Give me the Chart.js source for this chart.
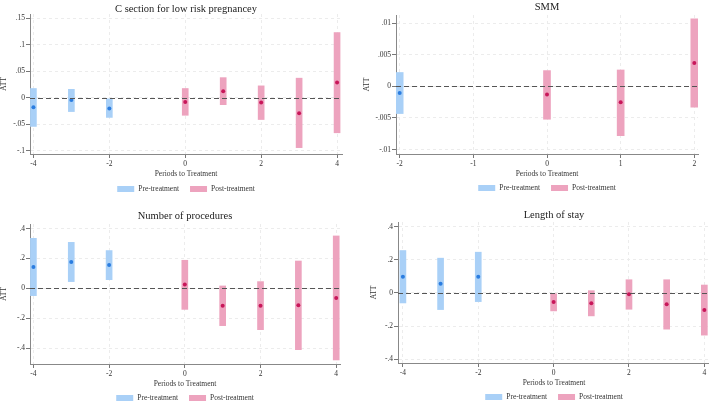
<!DOCTYPE html>
<html><head><meta charset="utf-8">
<script src="https://cdn.jsdelivr.net/npm/chart.js@4.4.0/dist/chart.umd.min.js"></script>
<style>
html,body{margin:0;padding:0;background:#fff;overflow:hidden;width:709px;height:402px;}
.p{position:absolute;overflow:hidden;}
</style></head><body>
<div class="p" style="left:0;top:0;width:355px;height:200px"><canvas id="c1" width="355" height="200"></canvas></div>
<div class="p" style="left:355px;top:0;width:354px;height:200px"><canvas id="c2" width="354" height="200"></canvas></div>
<div class="p" style="left:0;top:200px;width:355px;height:202px"><canvas id="c3" width="355" height="202"></canvas></div>
<div class="p" style="left:355px;top:200px;width:362px;height:202px"><canvas id="c4" width="362" height="202"></canvas></div>
<script>
// ---------- shared labels ----------
const legendLabels = ['Pre-treatment', 'Post-treatment'];
const xAxisTitle = 'Periods to Treatment';
const yAxisTitle = 'ATT';

// ---------- Panel 1: C section ----------
const csTitle = 'C section for low risk pregnancey';
const csPrePeriods = [-4, -3, -2];
const csPreEst = [-0.018, -0.004, -0.020];
const csPreLo = [-0.054, -0.026, -0.037];
const csPreHi = [0.0175, 0.016, -0.002];
const csPostPeriods = [0, 1, 2, 3, 4];
const csPostEst = [-0.008, 0.0125, -0.009, -0.029, 0.029];
const csPostLo = [-0.033, -0.013, -0.041, -0.094, -0.066];
const csPostHi = [0.0175, 0.038, 0.0225, 0.037, 0.123];
const csYTicks = [-0.1, -0.05, 0, 0.05, 0.1, 0.15];
const csYLabels = ['-.1', '-.05', '0', '.05', '.1', '.15'];
const csXTicks = [-4, -2, 0, 2, 4];
const csXLabels = ['-4', '-2', '0', '2', '4'];

// ---------- Panel 2: SMM ----------
const smmTitle = 'SMM';
const smmPrePeriods = [-2];
const smmPreEst = [-0.00105];
const smmPreLo = [-0.0043];
const smmPreHi = [0.0022];
const smmPostPeriods = [0, 1, 2];
const smmPostEst = [-0.0013, -0.0025, 0.0037];
const smmPostLo = [-0.0052, -0.0078, -0.0033];
const smmPostHi = [0.0025, 0.0026, 0.0107];
const smmYTicks = [-0.01, -0.005, 0, 0.005, 0.01];
const smmYLabels = ['-.01', '-.005', '0', '.005', '.01'];
const smmXTicks = [-2, -1, 0, 1, 2];
const smmXLabels = ['-2', '-1', '0', '1', '2'];

// ---------- Panel 3: Number of procedures ----------
const procTitle = 'Number of procedures';
const procPrePeriods = [-4, -3, -2];
const procPreEst = [0.143, 0.177, 0.156];
const procPreLo = [-0.049, 0.045, 0.058];
const procPreHi = [0.335, 0.308, 0.253];
const procPostPeriods = [0, 1, 2, 3, 4];
const procPostEst = [0.025, -0.116, -0.116, -0.114, -0.065];
const procPostLo = [-0.141, -0.25, -0.277, -0.411, -0.48];
const procPostHi = [0.188, 0.016, 0.045, 0.183, 0.351];
const procYTicks = [-0.4, -0.2, 0, 0.2, 0.4];
const procYLabels = ['-.4', '-.2', '0', '.2', '.4'];
const procXTicks = [-4, -2, 0, 2, 4];
const procXLabels = ['-4', '-2', '0', '2', '4'];

// ---------- Panel 4: Length of stay ----------
const losTitle = 'Length of stay';
const losPrePeriods = [-4, -3, -2];
const losPreEst = [0.098, 0.056, 0.098];
const losPreLo = [-0.06, -0.1, -0.052];
const losPreHi = [0.256, 0.21, 0.246];
const losPostPeriods = [0, 1, 2, 3, 4];
const losPostEst = [-0.054, -0.062, -0.008, -0.068, -0.102];
const losPostLo = [-0.108, -0.138, -0.098, -0.218, -0.254];
const losPostHi = [-0.004, 0.014, 0.08, 0.08, 0.048];
const losYTicks = [-0.4, -0.2, 0, 0.2, 0.4];
const losYLabels = ['-.4', '-.2', '0', '.2', '.4'];
const losXTicks = [-4, -2, 0, 2, 4];
const losXLabels = ['-4', '-2', '0', '2', '4'];

// ---------- styling ----------
const FONT = "'Liberation Serif', 'Times New Roman', serif";
const preBar = '#a9d0f7', postBar = '#eda3be';
const prePt = '#2b7de0', postPt = '#c8175a';

const zeroLinePlugin = {
  id: 'zeroLine',
  afterDatasetsDraw(chart) {
    const {ctx, chartArea, scales} = chart;
    const y = Math.round(scales.y.getPixelForValue(0)) + 0.5;
    ctx.save();
    ctx.strokeStyle = '#555';
    ctx.lineWidth = 1.2;
    ctx.setLineDash([5, 3]);
    ctx.beginPath();
    ctx.moveTo(chartArea.left, y);
    ctx.lineTo(chartArea.right, y);
    ctx.stroke();
    ctx.restore();
  }
};

const titleLegendPlugin = {
  id: 'titleLegend',
  afterDraw(chart) {
    const o = chart.options.plugins.titleLegend;
    const {ctx, chartArea} = chart;
    const cx = (chartArea.left + chartArea.right) / 2;
    ctx.save();
    ctx.fillStyle = '#222';
    ctx.font = '10.5px ' + FONT;
    ctx.textAlign = 'center';
    ctx.textBaseline = 'middle';
    ctx.fillText(o.title, cx, o.titleY);
    // legend
    ctx.font = '7.5px ' + FONT;
    const boxW = 17, boxH = 6, gap = 4, sep = 11;
    const cols = [preBar, postBar];
    const widths = o.labels.map(t => ctx.measureText(t).width);
    let total = 0;
    widths.forEach((w, i) => { total += boxW + gap + w + (i < widths.length - 1 ? sep : 0); });
    let x = cx - total / 2;
    ctx.textAlign = 'left';
    o.labels.forEach((t, i) => {
      ctx.fillStyle = cols[i];
      ctx.fillRect(x, o.legendY - boxH / 2, boxW, boxH);
      x += boxW + gap;
      ctx.fillStyle = '#333';
      ctx.fillText(t, x, o.legendY + 0.5);
      x += widths[i] + sep;
    });
    ctx.restore();
  }
};

function makePanel(id, d, L) {
  const ctx = document.getElementById(id);
  const pre = d.prePeriods.map((p, i) => ({x: p, y: [d.preLo[i], d.preHi[i]]}));
  const post = d.postPeriods.map((p, i) => ({x: p, y: [d.postLo[i], d.postHi[i]]}));
  const prePts = d.prePeriods.map((p, i) => ({x: p, y: d.preEst[i]}));
  const postPts = d.postPeriods.map((p, i) => ({x: p, y: d.postEst[i]}));
  const idx = (arr, v) => arr.findIndex(t => Math.abs(t - v) < 1e-9);
  return new Chart(ctx, {
    type: 'bar',
    data: {
      datasets: [
        {type: 'bar', label: legendLabels[0], data: pre, backgroundColor: preBar, barThickness: L.bw, order: 2},
        {type: 'bar', label: legendLabels[1], data: post, backgroundColor: postBar, barThickness: L.bw, order: 2},
        {type: 'scatter', data: prePts, backgroundColor: prePt, borderColor: prePt, pointRadius: 2, borderWidth: 0, order: 1},
        {type: 'scatter', data: postPts, backgroundColor: postPt, borderColor: postPt, pointRadius: 2, borderWidth: 0, order: 1}
      ]
    },
    options: {
      responsive: false,
      animation: false,
      devicePixelRatio: 1,
      grouped: false,
      layout: {padding: {top: L.top, left: 0, right: L.w - L.right, bottom: L.h - L.bottom - 25}},
      plugins: {
        legend: {display: false},
        tooltip: {enabled: false},
        titleLegend: {title: d.title, titleY: L.titleY, legendY: L.legendY, labels: legendLabels}
      },
      scales: {
        x: {
          type: 'linear',
          offset: false,
          min: L.xmin, max: L.xmax,
          afterFit(s) { s.height = 25; s.paddingLeft = 0; s.paddingRight = 0; },
          afterBuildTicks(s) { s.ticks = d.xTicks.map(v => ({value: v})); },
          ticks: {
            autoSkip: false, maxRotation: 0, padding: 2, color: '#333',
            font: {family: FONT, size: 7.5},
            callback: (v) => { const k = idx(d.xTicks, v); return k >= 0 ? d.xLabels[k] : ''; }
          },
          grid: {offset: false, color: '#ececec', tickColor: '#777', tickLength: 4, lineWidth: 1},
          border: {color: '#888', width: 1, dash: [3, 3]},
          title: {display: true, text: xAxisTitle, color: '#333', font: {family: FONT, size: 7.5}, padding: {top: 1, bottom: 0}}
        },
        y: {
          type: 'linear',
          min: L.ymin, max: L.ymax,
          afterFit(s) { s.width = L.left; s.paddingTop = 0; s.paddingBottom = 0; },
          afterBuildTicks(s) { s.ticks = d.yTicks.map(v => ({value: v})); },
          ticks: {
            autoSkip: false, padding: 1, color: '#333',
            font: {family: FONT, size: 7.5},
            callback: (v) => { const k = idx(d.yTicks, v); return k >= 0 ? d.yLabels[k] : ''; }
          },
          grid: {offset: false, color: '#ececec', tickColor: '#777', tickLength: 4, lineWidth: 1},
          border: {color: '#888', width: 1, dash: [3, 3]},
          title: {display: true, text: yAxisTitle, color: '#333', font: {family: FONT, size: 7.5}, padding: {top: L.yTitlePad, bottom: 0}}
        }
      }
    },
    plugins: [zeroLinePlugin, titleLegendPlugin]
  });
}

makePanel('c1', {
  title: csTitle, prePeriods: csPrePeriods, preEst: csPreEst, preLo: csPreLo, preHi: csPreHi,
  postPeriods: csPostPeriods, postEst: csPostEst, postLo: csPostLo, postHi: csPostHi,
  yTicks: csYTicks, yLabels: csYLabels, xTicks: csXTicks, xLabels: csXLabels
}, {w: 355, h: 200, left: 30, right: 342, top: 14, bottom: 154, titleY: 9, legendY: 189,
    xmin: -4.09, xmax: 4.13, ymin: -0.106, ymax: 0.158, bw: 6, yTitlePad: 0});

makePanel('c2', {
  title: smmTitle, prePeriods: smmPrePeriods, preEst: smmPreEst, preLo: smmPreLo, preHi: smmPreHi,
  postPeriods: smmPostPeriods, postEst: smmPostEst, postLo: smmPostLo, postHi: smmPostHi,
  yTicks: smmYTicks, yLabels: smmYLabels, xTicks: smmXTicks, xLabels: smmXLabels
}, {w: 354, h: 200, left: 41, right: 343, top: 15, bottom: 154, titleY: 7, legendY: 188,
    xmin: -2.05, xmax: 2.05, ymin: -0.0107, ymax: 0.0113, bw: 7, yTitlePad: 8});

makePanel('c3', {
  title: procTitle, prePeriods: procPrePeriods, preEst: procPreEst, preLo: procPreLo, preHi: procPreHi,
  postPeriods: procPostPeriods, postEst: procPostEst, postLo: procPostLo, postHi: procPostHi,
  yTicks: procYTicks, yLabels: procYLabels, xTicks: procXTicks, xLabels: procXLabels
}, {w: 355, h: 202, left: 30, right: 340, top: 24, bottom: 164, titleY: 16, legendY: 198,
    xmin: -4.09, xmax: 4.1, ymin: -0.507, ymax: 0.431, bw: 6, yTitlePad: 0});

makePanel('c4', {
  title: losTitle, prePeriods: losPrePeriods, preEst: losPreEst, preLo: losPreLo, preHi: losPreHi,
  postPeriods: losPostPeriods, postEst: losPostEst, postLo: losPostLo, postHi: losPostHi,
  yTicks: losYTicks, yLabels: losYLabels, xTicks: losXTicks, xLabels: losXLabels
}, {w: 362, h: 202, left: 43, right: 355, top: 22, bottom: 163, titleY: 15, legendY: 197,
    xmin: -4.13, xmax: 4.15, ymin: -0.422, ymax: 0.428, bw: 6, yTitlePad: 15});
</script>
</body></html>
